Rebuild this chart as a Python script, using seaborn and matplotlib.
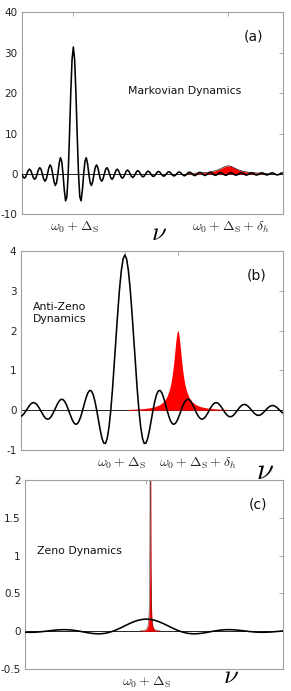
import numpy as np
import matplotlib
matplotlib.use("Agg")
import matplotlib.pyplot as plt
import matplotlib.transforms as mtransforms
import seaborn as sns

# ---------------- Panel (a): Markovian dynamics ----------------
a_x_range = (-10.0, 40.5)
a_y = [0, -0.73, -1.05, -0.76, 0, 0.81, 1.18, 0.86, 0, -0.91, -1.33, -0.98,
       0, 1.05, 1.54, 1.13, 0, -1.23, -1.82, -1.35, 0, 1.49, 2.22, 1.66,
       0, -1.89, -2.86, -2.18, 0, 2.57, 4.0, 3.14, 0, -4.04, -6.67, -5.66,
       0, 9.43, 20.0, 28.28, 31.4,
       28.28, 20.0, 9.43,
       0, -5.66, -6.67, -4.04, 0, 3.14, 4.0, 2.57, 0, -2.18, -2.86, -1.89,
       0, 1.66, 2.22, 1.49, 0, -1.35, -1.82, -1.23, 0, 1.13, 1.54, 1.05,
       0, -0.98, -1.33, -0.91, 0, 0.86, 1.18, 0.81, 0, -0.76, -1.05, -0.73,
       0, 0.69, 0.95, 0.66, 0, -0.63, -0.87, -0.60, 0, 0.58, 0.80, 0.55,
       0, -0.53, -0.74, -0.51, 0, 0.50, 0.69, 0.48, 0, -0.46, -0.65, -0.45,
       0, 0.44, 0.61, 0.42, 0, -0.41, -0.57, -0.40, 0, 0.39, 0.54, 0.38,
       0, -0.37, -0.51, -0.36, 0, 0.35, 0.49, 0.34, 0, -0.33, -0.47, -0.33,
       0, 0.32, 0.44, 0.31, 0, -0.30, -0.43, -0.30, 0, 0.29, 0.41, 0.29,
       0, -0.28, -0.39, -0.27, 0, 0.27, 0.38, 0.26, 0, -0.26, -0.36, -0.25,
       0, 0.25, 0.35, 0.25, 0, -0.24, -0.34, -0.24, 0, 0.23, 0.33, 0.23,
       0, -0.23, -0.32, -0.22, 0, 0.22, 0.31, 0.22, 0, -0.21, -0.30, -0.21,
       0, 0.21, 0.29, 0.20, 0, -0.20, -0.28, -0.20, 0, 0.20, 0.27, 0.19,
       0, -0.19, -0.27, -0.19, 0, 0.18, 0.26, 0.18, 0, -0.18, -0.25, -0.18,
       0, 0.18, 0.25]
a_red_x = [22, 22.5, 23, 23.5, 24, 24.5, 25, 25.5, 26, 26.5, 27, 27.5, 28,
           28.5, 29, 29.5, 30, 30.5, 31, 31.5, 32, 32.5, 33, 33.5, 34, 34.5,
           35, 35.5, 36, 36.5, 37, 37.5, 38]
a_red_y = [0.118, 0.133, 0.151, 0.173, 0.2, 0.234, 0.276, 0.330, 0.4, 0.492,
           0.615, 0.780, 1.0, 1.28, 1.6, 1.882, 2.0, 1.882, 1.6, 1.28, 1.0,
           0.780, 0.615, 0.492, 0.4, 0.330, 0.276, 0.234, 0.2, 0.173, 0.151,
           0.133, 0.118]
a_xticks = [0, 30]
a_xticklabels = [r"$\omega_0+\Delta_\mathrm{S}$", r"$\omega_0+\Delta_\mathrm{S}+\delta_h$"]
a_yticks = [-10, 0, 10, 20, 30, 40]
a_yticklabels = ["-10", "0", "10", "20", "30", "40"]

# ---------------- Panel (b): Anti-Zeno dynamics ----------------
b_x_range = (-7.5, 11.25)
b_y = [-0.1655, -0.1555, -0.1211, -0.0667, 0, 0.0691, 0.1300, 0.1731,
       0.1910, 0.1799, 0.1404, 0.0776, 0, -0.0809, -0.1527, -0.2039,
       -0.2257, -0.2134, -0.1672, -0.0927, 0, 0.0974, 0.1848, 0.2480,
       0.2759, 0.2621, 0.2065, 0.1152, 0, -0.1226, -0.2341, -0.3164,
       -0.3547, -0.3398, -0.2701, -0.1520, 0, 0.1652, 0.3192, 0.4369,
       0.4966, 0.4829, 0.3901, 0.2236, 0, -0.2534, -0.5016, -0.7058,
       -0.8276, -0.8341, -0.7022, -0.4223, 0, 0.543, 1.170, 1.835,
       2.483, 3.058, 3.511, 3.80, 3.9,
       3.80, 3.511, 3.058, 2.483, 1.835, 1.170, 0.543,
       0, -0.4223, -0.7022, -0.8341, -0.8276, -0.7058, -0.5016, -0.2534,
       0, 0.2236, 0.3901, 0.4829, 0.4966, 0.4369, 0.3192, 0.1652,
       0, -0.1520, -0.2701, -0.3398, -0.3547, -0.3164, -0.2341, -0.1226,
       0, 0.1152, 0.2065, 0.2621, 0.2759, 0.2480, 0.1848, 0.0974,
       0, -0.0927, -0.1672, -0.2134, -0.2257, -0.2039, -0.1527, -0.0809,
       0, 0.0776, 0.1404, 0.1799, 0.1910, 0.1731, 0.1300, 0.0691,
       0, -0.0667, -0.1211, -0.1555, -0.1655, -0.1504, -0.1133, -0.0603,
       0, 0.0585, 0.1064, 0.1369, 0.1460, 0.1330, 0.1003, 0.0535,
       0, -0.0521, -0.0949, -0.1223, -0.1307, -0.1192, -0.0900, -0.0481,
       0, 0.0469, 0.0856, 0.1105, 0.1182, 0.1079, 0.0817, 0.0437,
       0, -0.0427, -0.0780]
b_red_x = [0.26, 0.76, 1.26, 1.76, 2.16, 2.46, 2.76, 2.96, 3.16, 3.26, 3.36,
           3.46, 3.56, 3.61, 3.66, 3.71, 3.76, 3.81, 3.86, 3.91, 3.96, 4.06,
           4.16, 4.26, 4.36, 4.56, 4.76, 5.06, 5.36, 5.76, 6.26, 6.76, 7.26]
b_red_y = [0.0198, 0.0269, 0.0384, 0.0594, 0.0913, 0.135, 0.218, 0.321, 0.508,
           0.658, 0.867, 1.153, 1.508, 1.690, 1.849, 1.960, 2.0, 1.960, 1.849,
           1.690, 1.508, 1.153, 0.867, 0.658, 0.508, 0.321, 0.218, 0.135,
           0.0913, 0.0594, 0.0384, 0.0269, 0.0198]
b_xticks = [0, 3.76]
b_xticklabels = a_xticklabels
b_yticks = [-1, 0, 1, 2, 3, 4]
b_yticklabels = ["-1", "0", "1", "2", "3", "4"]

# ---------------- Panel (c): Zeno dynamics ----------------
c_x_range = (-3.625, 4.125)
c_y = [-0.0130, -0.0146, -0.0139, -0.0111, -0.0062, 0, 0.0068, 0.0131,
       0.0179, 0.0204, 0.0198, 0.0160, 0.0092, 0, -0.0104, -0.0206,
       -0.0290, -0.0340, -0.0342, -0.0288, -0.0173, 0, 0.0223, 0.0480,
       0.0753, 0.1019, 0.1255, 0.1440, 0.1559, 0.16,
       0.1559, 0.1440, 0.1255, 0.1019, 0.0753, 0.0480, 0.0223,
       0, -0.0173, -0.0288, -0.0342, -0.0340, -0.0290, -0.0206, -0.0104,
       0, 0.0092, 0.0160, 0.0198, 0.0204, 0.0179, 0.0131, 0.0068,
       0, -0.0062, -0.0111, -0.0139, -0.0146, -0.0130, -0.0096, -0.0050,
       0, 0.0047]
c_red_x = [-0.18, -0.08, -0.03, 0.02, 0.04, 0.06, 0.075, 0.09, 0.10, 0.105,
           0.11, 0.114, 0.117, 0.12, 0.123, 0.126, 0.13, 0.135, 0.14, 0.15,
           0.165, 0.18, 0.20, 0.22, 0.27, 0.32, 0.42]
c_red_y = [0.004, 0.009, 0.016, 0.036, 0.0558, 0.0985, 0.173, 0.375, 0.78,
           1.26, 2.25, 3.75, 5.22, 6.0, 5.22, 3.75, 2.25, 1.26, 0.78, 0.375,
           0.173, 0.0985, 0.0558, 0.036, 0.016, 0.009, 0.004]
c_xticks = [0]
c_xticklabels = [r"$\omega_0+\Delta_\mathrm{S}$"]
c_yticks = [-0.5, 0, 0.5, 1, 1.5, 2]
c_yticklabels = ["-0.5", "0", "0.5", "1", "1.5", "2"]

panel_tags = ["(a)", "(b)", "(c)"]
panel_notes = ["Markovian Dynamics", "Anti-Zeno\nDynamics", "Zeno Dynamics"]
x_name = r"$\nu$"

# ---------------- Styling ----------------
sns.set_style("white")
plt.rcParams["font.family"] = ["DejaVu Sans"]
plt.rcParams["mathtext.fontset"] = "cm"
plt.rcParams["axes.unicode_minus"] = False

W, H = 291, 691
fig = plt.figure(figsize=(W / 100, H / 100), dpi=100)

def frame(px_left, px_right, px_top, px_bottom):
    return [px_left / W, 1 - px_bottom / H, (px_right - px_left) / W,
            (px_bottom - px_top) / H]

axes = [fig.add_axes(frame(21.7, 282.5, 12.3, 214.3)),
        fig.add_axes(frame(20.7, 282.5, 251, 450)),
        fig.add_axes(frame(25, 282.5, 480, 669))]

panels = [
    dict(xr=a_x_range, y=a_y, rx=a_red_x, ry=a_red_y, ylim=(-10, 40),
         xt=a_xticks, xtl=a_xticklabels, yt=a_yticks, ytl=a_yticklabels,
         edge="#301010", elw=0.5, tag=(0.889, 0.878), note=(0.406, 0.610),
         nu=(0.526, -0.093), nuva="center", nusize=19, shift=[1.5, 2.5]),
    dict(xr=b_x_range, y=b_y, rx=b_red_x, ry=b_red_y, ylim=(-1, 4),
         xt=b_xticks, xtl=b_xticklabels, yt=b_yticks, ytl=b_yticklabels,
         edge=None, elw=0, tag=(0.903, 0.879), note=(0.047, 0.686),
         nu=(0.933, -0.105), nuva="center", nusize=22, shift=[-3.5, 20.5]),
    dict(xr=c_x_range, y=c_y, rx=c_red_x, ry=c_red_y, ylim=(-0.5, 2),
         xt=c_xticks, xtl=c_xticklabels, yt=c_yticks, ytl=c_yticklabels,
         edge="#402020", elw=0.35, tag=(0.903, 0.873), note=(0.047, 0.624),
         nu=(0.80, -0.108), nuva="bottom", nusize=19, shift=[0.5]),
]
xlims = [(-10, 40.5), (-7.4, 11.2), (-3.63, 4.07)]

for i, (ax, p) in enumerate(zip(axes, panels)):
    xs = np.linspace(p["xr"][0], p["xr"][1], len(p["y"]))
    ax.axhline(0, color="black", lw=0.6, zorder=1)
    ax.fill_between(p["rx"], 0, p["ry"], color="#ff0000", lw=0, zorder=2)
    if p["edge"]:
        ax.plot(p["rx"], p["ry"], color=p["edge"], lw=p["elw"], zorder=2.5)
    sns.lineplot(x=xs, y=p["y"], ax=ax, color="black", lw=1.15,
                 estimator=None, sort=False, zorder=3)
    ax.set_xlim(*xlims[i])
    ax.set_ylim(*p["ylim"])
    ax.set_xticks(p["xt"])
    ax.set_xticklabels(p["xtl"], fontsize=10)
    ax.set_yticks(p["yt"])
    ax.set_yticklabels(p["ytl"], fontsize=7.5, color="#222222")
    ax.tick_params(axis="both", direction="in", length=3, width=0.6,
                   color="#999999", top=True, right=True)
    ax.tick_params(axis="x", pad=4)
    ax.tick_params(axis="y", pad=3)
    for lab, dx in zip(ax.get_xticklabels(), p["shift"]):
        lab.set_transform(lab.get_transform() + mtransforms.ScaledTranslation(
            dx / 100, 0, fig.dpi_scale_trans))
    for s in ax.spines.values():
        s.set_visible(True)
        s.set_color("#a0a0a0")
        s.set_linewidth(0.8)
    ax.set_xlabel("")
    ax.set_ylabel("")
    ax.text(p["tag"][0], p["tag"][1], panel_tags[i], transform=ax.transAxes,
            ha="center", va="center", fontsize=10, color="#111111")
    ax.text(p["note"][0], p["note"][1], panel_notes[i], transform=ax.transAxes,
            ha="left", va="center", fontsize=7.8, color="#111111",
            linespacing=1.25)
    ax.text(p["nu"][0], p["nu"][1], x_name, transform=ax.transAxes,
            ha="center", va=p["nuva"], fontsize=p["nusize"], color="black")

fig.savefig("out.png", dpi=100)
